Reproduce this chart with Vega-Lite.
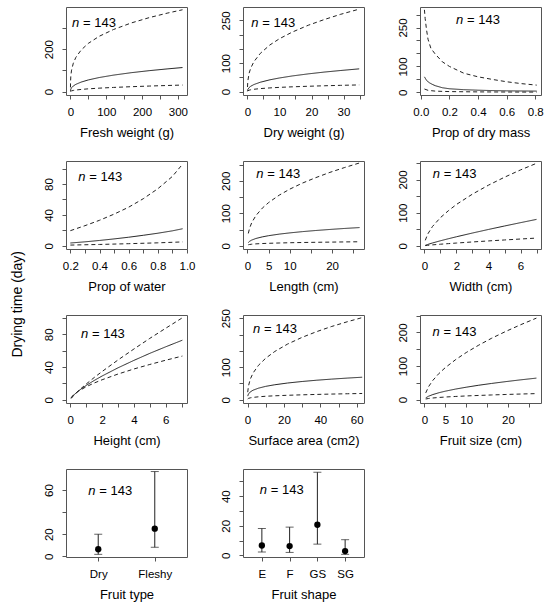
{
  "$schema": "https://vega.github.io/schema/vega-lite/v6.json",
  "padding": {"left": 10, "top": 6, "right": 5, "bottom": 5},
  "title": {"text": "Drying time (day)", "orient": "left", "anchor": "middle", "fontSize": 14, "fontWeight": "normal", "font": "Liberation Sans", "color": "#000", "offset": 18},
  "datasets": {
    "curves": [
      {"panel": "fresh", "series": "hi", "x": 0.01, "y": 19.8}, {"panel": "fresh", "series": "hi", "x": 0.2, "y": 46.6}, {"panel": "fresh", "series": "hi", "x": 1, "y": 74}, {"panel": "fresh", "series": "hi", "x": 3, "y": 101}, {"panel": "fresh", "series": "hi", "x": 8, "y": 134}, {"panel": "fresh", "series": "hi", "x": 15, "y": 161}, {"panel": "fresh", "series": "hi", "x": 30, "y": 196}, {"panel": "fresh", "series": "hi", "x": 50, "y": 227}, {"panel": "fresh", "series": "hi", "x": 80, "y": 260}, {"panel": "fresh", "series": "hi", "x": 120, "y": 292}, {"panel": "fresh", "series": "hi", "x": 170, "y": 323}, {"panel": "fresh", "series": "hi", "x": 220, "y": 348}, {"panel": "fresh", "series": "hi", "x": 270, "y": 369}, {"panel": "fresh", "series": "hi", "x": 313, "y": 385},
      {"panel": "fresh", "series": "fit", "x": 0.01, "y": 1.9}, {"panel": "fresh", "series": "fit", "x": 0.2, "y": 6.2}, {"panel": "fresh", "series": "fit", "x": 1, "y": 11.7}, {"panel": "fresh", "series": "fit", "x": 3, "y": 18.1}, {"panel": "fresh", "series": "fit", "x": 8, "y": 26.6}, {"panel": "fresh", "series": "fit", "x": 15, "y": 34.1}, {"panel": "fresh", "series": "fit", "x": 30, "y": 44.8}, {"panel": "fresh", "series": "fit", "x": 50, "y": 54.9}, {"panel": "fresh", "series": "fit", "x": 80, "y": 66.1}, {"panel": "fresh", "series": "fit", "x": 120, "y": 77.5}, {"panel": "fresh", "series": "fit", "x": 170, "y": 89}, {"panel": "fresh", "series": "fit", "x": 220, "y": 98.5}, {"panel": "fresh", "series": "fit", "x": 270, "y": 106.7}, {"panel": "fresh", "series": "fit", "x": 313, "y": 113.2},
      {"panel": "fresh", "series": "lo", "x": 0.01, "y": 0.24}, {"panel": "fresh", "series": "lo", "x": 0.2, "y": 0.97}, {"panel": "fresh", "series": "lo", "x": 1, "y": 2.07}, {"panel": "fresh", "series": "lo", "x": 3, "y": 3.5}, {"panel": "fresh", "series": "lo", "x": 8, "y": 5.5}, {"panel": "fresh", "series": "lo", "x": 15, "y": 7.4}, {"panel": "fresh", "series": "lo", "x": 30, "y": 10.2}, {"panel": "fresh", "series": "lo", "x": 50, "y": 13}, {"panel": "fresh", "series": "lo", "x": 80, "y": 16.2}, {"panel": "fresh", "series": "lo", "x": 120, "y": 19.6}, {"panel": "fresh", "series": "lo", "x": 170, "y": 23.1}, {"panel": "fresh", "series": "lo", "x": 220, "y": 26.1}, {"panel": "fresh", "series": "lo", "x": 270, "y": 28.7}, {"panel": "fresh", "series": "lo", "x": 313, "y": 30.8},

      {"panel": "dry", "series": "hi", "x": 0.01, "y": 16}, {"panel": "dry", "series": "hi", "x": 0.1, "y": 36.2}, {"panel": "dry", "series": "hi", "x": 0.5, "y": 64.1}, {"panel": "dry", "series": "hi", "x": 1, "y": 82}, {"panel": "dry", "series": "hi", "x": 2, "y": 104.9}, {"panel": "dry", "series": "hi", "x": 4, "y": 134}, {"panel": "dry", "series": "hi", "x": 7, "y": 163.7}, {"panel": "dry", "series": "hi", "x": 10, "y": 185.7}, {"panel": "dry", "series": "hi", "x": 14, "y": 209}, {"panel": "dry", "series": "hi", "x": 19, "y": 233}, {"panel": "dry", "series": "hi", "x": 24, "y": 253}, {"panel": "dry", "series": "hi", "x": 29, "y": 271}, {"panel": "dry", "series": "hi", "x": 34.9, "y": 289.5},
      {"panel": "dry", "series": "fit", "x": 0.01, "y": 2.8}, {"panel": "dry", "series": "fit", "x": 0.1, "y": 7.2}, {"panel": "dry", "series": "fit", "x": 0.5, "y": 14}, {"panel": "dry", "series": "fit", "x": 1, "y": 18.6}, {"panel": "dry", "series": "fit", "x": 2, "y": 24.7}, {"panel": "dry", "series": "fit", "x": 4, "y": 32.8}, {"panel": "dry", "series": "fit", "x": 7, "y": 41.3}, {"panel": "dry", "series": "fit", "x": 10, "y": 47.8}, {"panel": "dry", "series": "fit", "x": 14, "y": 54.9}, {"panel": "dry", "series": "fit", "x": 19, "y": 62.2}, {"panel": "dry", "series": "fit", "x": 24, "y": 68.5}, {"panel": "dry", "series": "fit", "x": 29, "y": 73.9}, {"panel": "dry", "series": "fit", "x": 34.9, "y": 79.8},
      {"panel": "dry", "series": "lo", "x": 0.01, "y": 1.1}, {"panel": "dry", "series": "lo", "x": 0.1, "y": 2.7}, {"panel": "dry", "series": "lo", "x": 0.5, "y": 4.9}, {"panel": "dry", "series": "lo", "x": 1, "y": 6.3}, {"panel": "dry", "series": "lo", "x": 2, "y": 8.1}, {"panel": "dry", "series": "lo", "x": 4, "y": 10.5}, {"panel": "dry", "series": "lo", "x": 7, "y": 12.9}, {"panel": "dry", "series": "lo", "x": 10, "y": 14.8}, {"panel": "dry", "series": "lo", "x": 14, "y": 16.7}, {"panel": "dry", "series": "lo", "x": 19, "y": 18.7}, {"panel": "dry", "series": "lo", "x": 24, "y": 20.4}, {"panel": "dry", "series": "lo", "x": 29, "y": 21.9}, {"panel": "dry", "series": "lo", "x": 34.9, "y": 23.4},

      {"panel": "pdry", "series": "hi", "x": 0.025, "y": 318}, {"panel": "pdry", "series": "hi", "x": 0.03, "y": 285}, {"panel": "pdry", "series": "hi", "x": 0.04, "y": 240}, {"panel": "pdry", "series": "hi", "x": 0.05, "y": 205}, {"panel": "pdry", "series": "hi", "x": 0.07, "y": 170}, {"panel": "pdry", "series": "hi", "x": 0.1, "y": 148}, {"panel": "pdry", "series": "hi", "x": 0.15, "y": 118}, {"panel": "pdry", "series": "hi", "x": 0.2, "y": 100}, {"panel": "pdry", "series": "hi", "x": 0.3, "y": 74}, {"panel": "pdry", "series": "hi", "x": 0.4, "y": 60}, {"panel": "pdry", "series": "hi", "x": 0.5, "y": 50}, {"panel": "pdry", "series": "hi", "x": 0.6, "y": 41}, {"panel": "pdry", "series": "hi", "x": 0.7, "y": 34}, {"panel": "pdry", "series": "hi", "x": 0.81, "y": 28},
      {"panel": "pdry", "series": "fit", "x": 0.025, "y": 60}, {"panel": "pdry", "series": "fit", "x": 0.04, "y": 46}, {"panel": "pdry", "series": "fit", "x": 0.06, "y": 37}, {"panel": "pdry", "series": "fit", "x": 0.08, "y": 31}, {"panel": "pdry", "series": "fit", "x": 0.1, "y": 26}, {"panel": "pdry", "series": "fit", "x": 0.15, "y": 18}, {"panel": "pdry", "series": "fit", "x": 0.2, "y": 14}, {"panel": "pdry", "series": "fit", "x": 0.3, "y": 10.5}, {"panel": "pdry", "series": "fit", "x": 0.4, "y": 8.5}, {"panel": "pdry", "series": "fit", "x": 0.5, "y": 7}, {"panel": "pdry", "series": "fit", "x": 0.6, "y": 6}, {"panel": "pdry", "series": "fit", "x": 0.7, "y": 5.5}, {"panel": "pdry", "series": "fit", "x": 0.81, "y": 5},
      {"panel": "pdry", "series": "lo", "x": 0.025, "y": 13}, {"panel": "pdry", "series": "lo", "x": 0.05, "y": 8}, {"panel": "pdry", "series": "lo", "x": 0.1, "y": 5}, {"panel": "pdry", "series": "lo", "x": 0.15, "y": 4}, {"panel": "pdry", "series": "lo", "x": 0.2, "y": 3.2}, {"panel": "pdry", "series": "lo", "x": 0.3, "y": 2.5}, {"panel": "pdry", "series": "lo", "x": 0.4, "y": 2}, {"panel": "pdry", "series": "lo", "x": 0.6, "y": 1.5}, {"panel": "pdry", "series": "lo", "x": 0.81, "y": 1.2},

      {"panel": "pwater", "series": "hi", "x": 0.2, "y": 19.5}, {"panel": "pwater", "series": "hi", "x": 0.3, "y": 26}, {"panel": "pwater", "series": "hi", "x": 0.4, "y": 33}, {"panel": "pwater", "series": "hi", "x": 0.5, "y": 41}, {"panel": "pwater", "series": "hi", "x": 0.6, "y": 50}, {"panel": "pwater", "series": "hi", "x": 0.7, "y": 61}, {"panel": "pwater", "series": "hi", "x": 0.8, "y": 74}, {"panel": "pwater", "series": "hi", "x": 0.9, "y": 90}, {"panel": "pwater", "series": "hi", "x": 0.97, "y": 106},
      {"panel": "pwater", "series": "fit", "x": 0.2, "y": 3.5}, {"panel": "pwater", "series": "fit", "x": 0.3, "y": 5}, {"panel": "pwater", "series": "fit", "x": 0.4, "y": 6.8}, {"panel": "pwater", "series": "fit", "x": 0.5, "y": 8.8}, {"panel": "pwater", "series": "fit", "x": 0.6, "y": 11}, {"panel": "pwater", "series": "fit", "x": 0.7, "y": 13.5}, {"panel": "pwater", "series": "fit", "x": 0.8, "y": 16.2}, {"panel": "pwater", "series": "fit", "x": 0.9, "y": 19.3}, {"panel": "pwater", "series": "fit", "x": 0.97, "y": 22},
      {"panel": "pwater", "series": "lo", "x": 0.2, "y": 0.8}, {"panel": "pwater", "series": "lo", "x": 0.4, "y": 1.6}, {"panel": "pwater", "series": "lo", "x": 0.6, "y": 2.6}, {"panel": "pwater", "series": "lo", "x": 0.8, "y": 3.7}, {"panel": "pwater", "series": "lo", "x": 0.97, "y": 4.9},

      {"panel": "length", "series": "hi", "x": 0.2, "y": 37.9}, {"panel": "length", "series": "hi", "x": 0.5, "y": 54.2}, {"panel": "length", "series": "hi", "x": 1, "y": 71}, {"panel": "length", "series": "hi", "x": 2, "y": 93}, {"panel": "length", "series": "hi", "x": 3.5, "y": 115.8}, {"panel": "length", "series": "hi", "x": 5, "y": 133}, {"panel": "length", "series": "hi", "x": 7.5, "y": 155.8}, {"panel": "length", "series": "hi", "x": 10, "y": 174.3}, {"panel": "length", "series": "hi", "x": 13, "y": 193}, {"panel": "length", "series": "hi", "x": 16, "y": 209}, {"panel": "length", "series": "hi", "x": 19.5, "y": 226}, {"panel": "length", "series": "hi", "x": 23, "y": 241}, {"panel": "length", "series": "hi", "x": 26.5, "y": 255},
      {"panel": "length", "series": "fit", "x": 0.2, "y": 9.9}, {"panel": "length", "series": "fit", "x": 0.5, "y": 13.7}, {"panel": "length", "series": "fit", "x": 1, "y": 17.5}, {"panel": "length", "series": "fit", "x": 2, "y": 22.4}, {"panel": "length", "series": "fit", "x": 3.5, "y": 27.3}, {"panel": "length", "series": "fit", "x": 5, "y": 31}, {"panel": "length", "series": "fit", "x": 7.5, "y": 35.8}, {"panel": "length", "series": "fit", "x": 10, "y": 39.6}, {"panel": "length", "series": "fit", "x": 13, "y": 43.5}, {"panel": "length", "series": "fit", "x": 16, "y": 46.8}, {"panel": "length", "series": "fit", "x": 19.5, "y": 50.2}, {"panel": "length", "series": "fit", "x": 23, "y": 53.3}, {"panel": "length", "series": "fit", "x": 26.5, "y": 56},
      {"panel": "length", "series": "lo", "x": 0.2, "y": 3}, {"panel": "length", "series": "lo", "x": 0.5, "y": 3.9}, {"panel": "length", "series": "lo", "x": 1, "y": 4.75}, {"panel": "length", "series": "lo", "x": 2, "y": 5.8}, {"panel": "length", "series": "lo", "x": 3.5, "y": 6.8}, {"panel": "length", "series": "lo", "x": 5, "y": 7.6}, {"panel": "length", "series": "lo", "x": 7.5, "y": 8.5}, {"panel": "length", "series": "lo", "x": 10, "y": 9.3}, {"panel": "length", "series": "lo", "x": 13, "y": 10}, {"panel": "length", "series": "lo", "x": 16, "y": 10.6}, {"panel": "length", "series": "lo", "x": 19.5, "y": 11.2}, {"panel": "length", "series": "lo", "x": 23, "y": 11.8}, {"panel": "length", "series": "lo", "x": 26.5, "y": 12.3},

      {"panel": "width", "series": "hi", "x": 0.05, "y": 16.2}, {"panel": "width", "series": "hi", "x": 0.2, "y": 34.9}, {"panel": "width", "series": "hi", "x": 0.5, "y": 58}, {"panel": "width", "series": "hi", "x": 1, "y": 85}, {"panel": "width", "series": "hi", "x": 1.5, "y": 106}, {"panel": "width", "series": "hi", "x": 2, "y": 124.7}, {"panel": "width", "series": "hi", "x": 3, "y": 156}, {"panel": "width", "series": "hi", "x": 4, "y": 183}, {"panel": "width", "series": "hi", "x": 5, "y": 207}, {"panel": "width", "series": "hi", "x": 6, "y": 229}, {"panel": "width", "series": "hi", "x": 7, "y": 249},
      {"panel": "width", "series": "fit", "x": 0.05, "y": 1.1}, {"panel": "width", "series": "fit", "x": 0.2, "y": 3.7}, {"panel": "width", "series": "fit", "x": 0.5, "y": 8.2}, {"panel": "width", "series": "fit", "x": 1, "y": 14.9}, {"panel": "width", "series": "fit", "x": 1.5, "y": 21.1}, {"panel": "width", "series": "fit", "x": 2, "y": 27}, {"panel": "width", "series": "fit", "x": 3, "y": 38.3}, {"panel": "width", "series": "fit", "x": 4, "y": 49.1}, {"panel": "width", "series": "fit", "x": 5, "y": 59.5}, {"panel": "width", "series": "fit", "x": 6, "y": 69.6}, {"panel": "width", "series": "fit", "x": 7, "y": 79.5},
      {"panel": "width", "series": "lo", "x": 0.05, "y": 0.36}, {"panel": "width", "series": "lo", "x": 0.2, "y": 1.15}, {"panel": "width", "series": "lo", "x": 0.5, "y": 2.5}, {"panel": "width", "series": "lo", "x": 1, "y": 4.46}, {"panel": "width", "series": "lo", "x": 1.5, "y": 6.3}, {"panel": "width", "series": "lo", "x": 2, "y": 8}, {"panel": "width", "series": "lo", "x": 3, "y": 11.3}, {"panel": "width", "series": "lo", "x": 4, "y": 14.4}, {"panel": "width", "series": "lo", "x": 5, "y": 17.3}, {"panel": "width", "series": "lo", "x": 6, "y": 20.2}, {"panel": "width", "series": "lo", "x": 7, "y": 23},

      {"panel": "height", "series": "hi", "x": 0.05, "y": 1.5}, {"panel": "height", "series": "hi", "x": 0.2, "y": 4.9}, {"panel": "height", "series": "hi", "x": 0.5, "y": 10.7}, {"panel": "height", "series": "hi", "x": 1, "y": 19.2}, {"panel": "height", "series": "hi", "x": 1.5, "y": 27.1}, {"panel": "height", "series": "hi", "x": 2, "y": 34.5}, {"panel": "height", "series": "hi", "x": 3, "y": 48.6}, {"panel": "height", "series": "hi", "x": 4, "y": 62}, {"panel": "height", "series": "hi", "x": 5, "y": 75}, {"panel": "height", "series": "hi", "x": 6, "y": 87.4}, {"panel": "height", "series": "hi", "x": 7.05, "y": 100.2},
      {"panel": "height", "series": "fit", "x": 0.05, "y": 2}, {"panel": "height", "series": "fit", "x": 0.2, "y": 5.4}, {"panel": "height", "series": "fit", "x": 0.5, "y": 10.6}, {"panel": "height", "series": "fit", "x": 1, "y": 17.5}, {"panel": "height", "series": "fit", "x": 1.5, "y": 23.5}, {"panel": "height", "series": "fit", "x": 2, "y": 29}, {"panel": "height", "series": "fit", "x": 3, "y": 39}, {"panel": "height", "series": "fit", "x": 4, "y": 48.1}, {"panel": "height", "series": "fit", "x": 5, "y": 56.7}, {"panel": "height", "series": "fit", "x": 6, "y": 64.7}, {"panel": "height", "series": "fit", "x": 7.05, "y": 72.8},
      {"panel": "height", "series": "lo", "x": 0.05, "y": 2.5}, {"panel": "height", "series": "lo", "x": 0.2, "y": 5.9}, {"panel": "height", "series": "lo", "x": 0.5, "y": 10.3}, {"panel": "height", "series": "lo", "x": 1, "y": 15.9}, {"panel": "height", "series": "lo", "x": 1.5, "y": 20.4}, {"panel": "height", "series": "lo", "x": 2, "y": 24.4}, {"panel": "height", "series": "lo", "x": 3, "y": 31.4}, {"panel": "height", "series": "lo", "x": 4, "y": 37.6}, {"panel": "height", "series": "lo", "x": 5, "y": 43.1}, {"panel": "height", "series": "lo", "x": 6, "y": 48.3}, {"panel": "height", "series": "lo", "x": 7.05, "y": 53.4},

      {"panel": "surface", "series": "hi", "x": 0.1, "y": 23.2}, {"panel": "surface", "series": "hi", "x": 0.5, "y": 42.1}, {"panel": "surface", "series": "hi", "x": 1.5, "y": 63.2}, {"panel": "surface", "series": "hi", "x": 3, "y": 81.7}, {"panel": "surface", "series": "hi", "x": 6, "y": 105.6}, {"panel": "surface", "series": "hi", "x": 10, "y": 127.5}, {"panel": "surface", "series": "hi", "x": 15, "y": 148.2}, {"panel": "surface", "series": "hi", "x": 22, "y": 170.8}, {"panel": "surface", "series": "hi", "x": 30, "y": 191.5}, {"panel": "surface", "series": "hi", "x": 38, "y": 209}, {"panel": "surface", "series": "hi", "x": 46, "y": 224.4}, {"panel": "surface", "series": "hi", "x": 55, "y": 239.6}, {"panel": "surface", "series": "hi", "x": 63, "y": 252},
      {"panel": "surface", "series": "fit", "x": 0.1, "y": 11.1}, {"panel": "surface", "series": "fit", "x": 0.5, "y": 17.6}, {"panel": "surface", "series": "fit", "x": 1.5, "y": 24}, {"panel": "surface", "series": "fit", "x": 3, "y": 29.2}, {"panel": "surface", "series": "fit", "x": 6, "y": 35.5}, {"panel": "surface", "series": "fit", "x": 10, "y": 41.1}, {"panel": "surface", "series": "fit", "x": 15, "y": 46}, {"panel": "surface", "series": "fit", "x": 22, "y": 51.3}, {"panel": "surface", "series": "fit", "x": 30, "y": 56}, {"panel": "surface", "series": "fit", "x": 38, "y": 59.9}, {"panel": "surface", "series": "fit", "x": 46, "y": 63.2}, {"panel": "surface", "series": "fit", "x": 55, "y": 66.5}, {"panel": "surface", "series": "fit", "x": 63, "y": 69.1},
      {"panel": "surface", "series": "lo", "x": 0.1, "y": 2.4}, {"panel": "surface", "series": "lo", "x": 0.5, "y": 4.1}, {"panel": "surface", "series": "lo", "x": 1.5, "y": 5.8}, {"panel": "surface", "series": "lo", "x": 3, "y": 7.2}, {"panel": "surface", "series": "lo", "x": 6, "y": 9}, {"panel": "surface", "series": "lo", "x": 10, "y": 10.7}, {"panel": "surface", "series": "lo", "x": 15, "y": 12.1}, {"panel": "surface", "series": "lo", "x": 22, "y": 13.7}, {"panel": "surface", "series": "lo", "x": 30, "y": 15.1}, {"panel": "surface", "series": "lo", "x": 38, "y": 16.3}, {"panel": "surface", "series": "lo", "x": 46, "y": 17.4}, {"panel": "surface", "series": "lo", "x": 55, "y": 18.4}, {"panel": "surface", "series": "lo", "x": 63, "y": 19.2},

      {"panel": "size", "series": "hi", "x": 0.3, "y": 20}, {"panel": "size", "series": "hi", "x": 1, "y": 39}, {"panel": "size", "series": "hi", "x": 2, "y": 57.3}, {"panel": "size", "series": "hi", "x": 3.5, "y": 78.3}, {"panel": "size", "series": "hi", "x": 5, "y": 95.4}, {"panel": "size", "series": "hi", "x": 7.5, "y": 119.5}, {"panel": "size", "series": "hi", "x": 10, "y": 140.3}, {"panel": "size", "series": "hi", "x": 13, "y": 162.3}, {"panel": "size", "series": "hi", "x": 16, "y": 182.3}, {"panel": "size", "series": "hi", "x": 19.5, "y": 203.3}, {"panel": "size", "series": "hi", "x": 23, "y": 222.9}, {"panel": "size", "series": "hi", "x": 26.8, "y": 242.7},
      {"panel": "size", "series": "fit", "x": 0.3, "y": 5.3}, {"panel": "size", "series": "fit", "x": 1, "y": 10.3}, {"panel": "size", "series": "fit", "x": 2, "y": 15.1}, {"panel": "size", "series": "fit", "x": 3.5, "y": 20.7}, {"panel": "size", "series": "fit", "x": 5, "y": 25.2}, {"panel": "size", "series": "fit", "x": 7.5, "y": 31.6}, {"panel": "size", "series": "fit", "x": 10, "y": 37}, {"panel": "size", "series": "fit", "x": 13, "y": 42.9}, {"panel": "size", "series": "fit", "x": 16, "y": 48.1}, {"panel": "size", "series": "fit", "x": 19.5, "y": 53.7}, {"panel": "size", "series": "fit", "x": 23, "y": 58.9}, {"panel": "size", "series": "fit", "x": 26.8, "y": 64.1},
      {"panel": "size", "series": "lo", "x": 0.3, "y": 1.9}, {"panel": "size", "series": "lo", "x": 1, "y": 3.5}, {"panel": "size", "series": "lo", "x": 2, "y": 4.9}, {"panel": "size", "series": "lo", "x": 3.5, "y": 6.5}, {"panel": "size", "series": "lo", "x": 5, "y": 7.8}, {"panel": "size", "series": "lo", "x": 7.5, "y": 9.5}, {"panel": "size", "series": "lo", "x": 10, "y": 11}, {"panel": "size", "series": "lo", "x": 13, "y": 12.5}, {"panel": "size", "series": "lo", "x": 16, "y": 13.9}, {"panel": "size", "series": "lo", "x": 19.5, "y": 15.4}, {"panel": "size", "series": "lo", "x": 23, "y": 16.7}, {"panel": "size", "series": "lo", "x": 26.8, "y": 18}
    ],
    "cats": [
      {"panel": "type", "cat": "Dry", "mean": 6.4, "lo": 1.8, "hi": 20},
      {"panel": "type", "cat": "Fleshy", "mean": 25, "lo": 8.2, "hi": 76.7},
      {"panel": "shape", "cat": "E", "mean": 6.7, "lo": 2.2, "hi": 18.2},
      {"panel": "shape", "cat": "F", "mean": 6.3, "lo": 2, "hi": 19.1},
      {"panel": "shape", "cat": "GS", "mean": 20.7, "lo": 7.6, "hi": 56.2},
      {"panel": "shape", "cat": "SG", "mean": 2.9, "lo": 0.7, "hi": 10.6}
    ]
  },
  "columns": 3,
  "spacing": {"row": 66, "column": 56},
  "bounds": "flush",
  "concat": [
    {
      "width": 121, "height": 88,
      "data": {"name": "curves"},
      "transform": [{"filter": "datum.panel === 'fresh'"}],
      "layer": [
        {"mark": {"type": "line", "color": "#222", "strokeWidth": 1},
         "encoding": {
           "x": {"field": "x", "type": "quantitative", "scale": {"domain": [-12.5, 325.5], "nice": false, "zero": false}, "axis": {"title": "Fresh weight (g)", "format": "d", "tickCount": 50, "labelOverlap": false, "values": [0, 50, 100, 150, 200, 250, 300], "labelExpr": "indexof([0, 100, 200, 300], datum.value) >= 0 ? datum.label : ''"}},
           "y": {"field": "y", "type": "quantitative", "scale": {"domain": [-16, 398], "nice": false, "zero": false}, "axis": {"title": null, "format": "d", "tickCount": 50, "labelOverlap": false, "values": [0, 100, 200, 300], "labelExpr": "indexof([0, 200], datum.value) >= 0 ? datum.label : ''"}},
           "strokeDash": {"field": "series", "type": "nominal", "scale": {"domain": ["fit", "lo", "hi"], "range": [[1, 0], [4, 3], [4, 3]]}, "legend": null}
         }},
        {"data": {"values": [{}]}, "mark": {"type": "text", "text": "n", "fontStyle": "italic", "align": "left", "baseline": "middle", "fontSize": 13},
         "encoding": {"x": {"datum": 4.3, "type": "quantitative"}, "y": {"datum": 323, "type": "quantitative"}}},
        {"data": {"values": [{}]}, "mark": {"type": "text", "text": "= 143", "align": "left", "baseline": "middle", "fontSize": 13, "dx": 11},
         "encoding": {"x": {"datum": 4.3, "type": "quantitative"}, "y": {"datum": 323, "type": "quantitative"}}}
      ]
    },
    {
      "width": 121, "height": 88,
      "data": {"name": "curves"},
      "transform": [{"filter": "datum.panel === 'dry'"}],
      "layer": [
        {"mark": {"type": "line", "color": "#222", "strokeWidth": 1},
         "encoding": {
           "x": {"field": "x", "type": "quantitative", "scale": {"domain": [-1.4, 36.4], "nice": false, "zero": false}, "axis": {"title": "Dry weight (g)", "format": "d", "tickCount": 50, "labelOverlap": false, "values": [0, 5, 10, 15, 20, 25, 30, 35], "labelExpr": "indexof([0, 10, 20, 30], datum.value) >= 0 ? datum.label : ''"}},
           "y": {"field": "y", "type": "quantitative", "scale": {"domain": [-12, 297], "nice": false, "zero": false}, "axis": {"title": null, "format": "d", "tickCount": 50, "labelOverlap": false, "values": [0, 50, 100, 150, 200, 250], "labelExpr": "indexof([0, 100, 250], datum.value) >= 0 ? datum.label : ''"}},
           "strokeDash": {"field": "series", "type": "nominal", "scale": {"domain": ["fit", "lo", "hi"], "range": [[1, 0], [4, 3], [4, 3]]}, "legend": null}
         }},
        {"data": {"values": [{}]}, "mark": {"type": "text", "text": "n", "fontStyle": "italic", "align": "left", "baseline": "middle", "fontSize": 13},
         "encoding": {"x": {"datum": 1.2, "type": "quantitative"}, "y": {"datum": 242, "type": "quantitative"}}},
        {"data": {"values": [{}]}, "mark": {"type": "text", "text": "= 143", "align": "left", "baseline": "middle", "fontSize": 13, "dx": 11},
         "encoding": {"x": {"datum": 1.2, "type": "quantitative"}, "y": {"datum": 242, "type": "quantitative"}}}
      ]
    },
    {
      "width": 121, "height": 88,
      "data": {"name": "curves"},
      "transform": [{"filter": "datum.panel === 'pdry'"}],
      "layer": [
        {"mark": {"type": "line", "color": "#222", "strokeWidth": 1},
         "encoding": {
           "x": {"field": "x", "type": "quantitative", "scale": {"domain": [-0.006, 0.84], "nice": false, "zero": false}, "axis": {"title": "Prop of dry mass", "tickCount": 50, "labelOverlap": false, "values": [0, 0.2, 0.4, 0.6, 0.8], "format": ".1f"}},
           "y": {"field": "y", "type": "quantitative", "scale": {"domain": [-10, 329], "nice": false, "zero": false}, "axis": {"title": null, "format": "d", "tickCount": 50, "labelOverlap": false, "values": [0, 50, 100, 150, 200, 250, 300], "labelExpr": "indexof([0, 100, 250], datum.value) >= 0 ? datum.label : ''"}},
           "strokeDash": {"field": "series", "type": "nominal", "scale": {"domain": ["fit", "lo", "hi"], "range": [[1, 0], [4, 3], [4, 3]]}, "legend": null}
         }},
        {"data": {"values": [{}]}, "mark": {"type": "text", "text": "n", "fontStyle": "italic", "align": "left", "baseline": "middle", "fontSize": 13},
         "encoding": {"x": {"datum": 0.246, "type": "quantitative"}, "y": {"datum": 279, "type": "quantitative"}}},
        {"data": {"values": [{}]}, "mark": {"type": "text", "text": "= 143", "align": "left", "baseline": "middle", "fontSize": 13, "dx": 11},
         "encoding": {"x": {"datum": 0.246, "type": "quantitative"}, "y": {"datum": 279, "type": "quantitative"}}}
      ]
    },
    {
      "width": 121, "height": 88,
      "data": {"name": "curves"},
      "transform": [{"filter": "datum.panel === 'pwater'"}],
      "layer": [
        {"mark": {"type": "line", "color": "#222", "strokeWidth": 1},
         "encoding": {
           "x": {"field": "x", "type": "quantitative", "scale": {"domain": [0.17, 1.0], "nice": false, "zero": false}, "axis": {"title": "Prop of water", "tickCount": 50, "labelOverlap": false, "values": [0.2, 0.3, 0.4, 0.5, 0.6, 0.7, 0.8, 0.9, 1.0], "format": ".1f", "labelExpr": "indexof([0.2, 0.4, 0.6, 0.8, 1.0], datum.value) >= 0 ? datum.label : ''"}},
           "y": {"field": "y", "type": "quantitative", "scale": {"domain": [-4.3, 110], "nice": false, "zero": false}, "axis": {"title": null, "format": "d", "tickCount": 50, "labelOverlap": false, "values": [0, 20, 40, 60, 80, 100], "labelExpr": "indexof([0, 40, 80], datum.value) >= 0 ? datum.label : ''"}},
           "strokeDash": {"field": "series", "type": "nominal", "scale": {"domain": ["fit", "lo", "hi"], "range": [[1, 0], [4, 3], [4, 3]]}, "legend": null}
         }},
        {"data": {"values": [{}]}, "mark": {"type": "text", "text": "n", "fontStyle": "italic", "align": "left", "baseline": "middle", "fontSize": 13},
         "encoding": {"x": {"datum": 0.254, "type": "quantitative"}, "y": {"datum": 89.2, "type": "quantitative"}}},
        {"data": {"values": [{}]}, "mark": {"type": "text", "text": "= 143", "align": "left", "baseline": "middle", "fontSize": 13, "dx": 11},
         "encoding": {"x": {"datum": 0.254, "type": "quantitative"}, "y": {"datum": 89.2, "type": "quantitative"}}}
      ]
    },
    {
      "width": 121, "height": 88,
      "data": {"name": "curves"},
      "transform": [{"filter": "datum.panel === 'length'"}],
      "layer": [
        {"mark": {"type": "line", "color": "#222", "strokeWidth": 1},
         "encoding": {
           "x": {"field": "x", "type": "quantitative", "scale": {"domain": [-1.06, 27.56], "nice": false, "zero": false}, "axis": {"title": "Length (cm)", "format": "d", "tickCount": 50, "labelOverlap": false, "values": [0, 5, 10, 15, 20, 25], "labelExpr": "indexof([0, 5, 10, 20], datum.value) >= 0 ? datum.label : ''"}},
           "y": {"field": "y", "type": "quantitative", "scale": {"domain": [-10, 261], "nice": false, "zero": false}, "axis": {"title": null, "format": "d", "tickCount": 50, "labelOverlap": false, "values": [0, 50, 100, 150, 200, 250], "labelExpr": "indexof([0, 100, 200], datum.value) >= 0 ? datum.label : ''"}},
           "strokeDash": {"field": "series", "type": "nominal", "scale": {"domain": ["fit", "lo", "hi"], "range": [[1, 0], [4, 3], [4, 3]]}, "legend": null}
         }},
        {"data": {"values": [{}]}, "mark": {"type": "text", "text": "n", "fontStyle": "italic", "align": "left", "baseline": "middle", "fontSize": 13},
         "encoding": {"x": {"datum": 2.1, "type": "quantitative"}, "y": {"datum": 222, "type": "quantitative"}}},
        {"data": {"values": [{}]}, "mark": {"type": "text", "text": "= 143", "align": "left", "baseline": "middle", "fontSize": 13, "dx": 11},
         "encoding": {"x": {"datum": 2.1, "type": "quantitative"}, "y": {"datum": 222, "type": "quantitative"}}}
      ]
    },
    {
      "width": 121, "height": 88,
      "data": {"name": "curves"},
      "transform": [{"filter": "datum.panel === 'width'"}],
      "layer": [
        {"mark": {"type": "line", "color": "#222", "strokeWidth": 1},
         "encoding": {
           "x": {"field": "x", "type": "quantitative", "scale": {"domain": [-0.28, 7.28], "nice": false, "zero": false}, "axis": {"title": "Width (cm)", "format": "d", "tickCount": 50, "labelOverlap": false, "values": [0, 1, 2, 3, 4, 5, 6, 7], "labelExpr": "indexof([0, 2, 4, 6], datum.value) >= 0 ? datum.label : ''"}},
           "y": {"field": "y", "type": "quantitative", "scale": {"domain": [-10, 256], "nice": false, "zero": false}, "axis": {"title": null, "format": "d", "tickCount": 50, "labelOverlap": false, "values": [0, 50, 100, 150, 200, 250], "labelExpr": "indexof([0, 100, 200], datum.value) >= 0 ? datum.label : ''"}},
           "strokeDash": {"field": "series", "type": "nominal", "scale": {"domain": ["fit", "lo", "hi"], "range": [[1, 0], [4, 3], [4, 3]]}, "legend": null}
         }},
        {"data": {"values": [{}]}, "mark": {"type": "text", "text": "n", "fontStyle": "italic", "align": "left", "baseline": "middle", "fontSize": 13},
         "encoding": {"x": {"datum": 0.51, "type": "quantitative"}, "y": {"datum": 216, "type": "quantitative"}}},
        {"data": {"values": [{}]}, "mark": {"type": "text", "text": "= 143", "align": "left", "baseline": "middle", "fontSize": 13, "dx": 11},
         "encoding": {"x": {"datum": 0.51, "type": "quantitative"}, "y": {"datum": 216, "type": "quantitative"}}}
      ]
    },
    {
      "width": 121, "height": 88,
      "data": {"name": "curves"},
      "transform": [{"filter": "datum.panel === 'height'"}],
      "layer": [
        {"mark": {"type": "line", "color": "#222", "strokeWidth": 1},
         "encoding": {
           "x": {"field": "x", "type": "quantitative", "scale": {"domain": [-0.27, 7.34], "nice": false, "zero": false}, "axis": {"title": "Height (cm)", "format": "d", "tickCount": 50, "labelOverlap": false, "values": [0, 1, 2, 3, 4, 5, 6, 7], "labelExpr": "indexof([0, 2, 4, 6], datum.value) >= 0 ? datum.label : ''"}},
           "y": {"field": "y", "type": "quantitative", "scale": {"domain": [-4, 103.6], "nice": false, "zero": false}, "axis": {"title": null, "format": "d", "tickCount": 50, "labelOverlap": false, "values": [0, 20, 40, 60, 80, 100], "labelExpr": "indexof([0, 40, 80], datum.value) >= 0 ? datum.label : ''"}},
           "strokeDash": {"field": "series", "type": "nominal", "scale": {"domain": ["fit", "lo", "hi"], "range": [[1, 0], [4, 3], [4, 3]]}, "legend": null}
         }},
        {"data": {"values": [{}]}, "mark": {"type": "text", "text": "n", "fontStyle": "italic", "align": "left", "baseline": "middle", "fontSize": 13},
         "encoding": {"x": {"datum": 0.67, "type": "quantitative"}, "y": {"datum": 80.4, "type": "quantitative"}}},
        {"data": {"values": [{}]}, "mark": {"type": "text", "text": "= 143", "align": "left", "baseline": "middle", "fontSize": 13, "dx": 11},
         "encoding": {"x": {"datum": 0.67, "type": "quantitative"}, "y": {"datum": 80.4, "type": "quantitative"}}}
      ]
    },
    {
      "width": 121, "height": 88,
      "data": {"name": "curves"},
      "transform": [{"filter": "datum.panel === 'surface'"}],
      "layer": [
        {"mark": {"type": "line", "color": "#222", "strokeWidth": 1},
         "encoding": {
           "x": {"field": "x", "type": "quantitative", "scale": {"domain": [-2.5, 64], "nice": false, "zero": false}, "axis": {"title": "Surface area (cm2)", "format": "d", "tickCount": 50, "labelOverlap": false, "values": [0, 10, 20, 30, 40, 50, 60], "labelExpr": "indexof([0, 20, 40, 60], datum.value) >= 0 ? datum.label : ''"}},
           "y": {"field": "y", "type": "quantitative", "scale": {"domain": [-10, 260], "nice": false, "zero": false}, "axis": {"title": null, "format": "d", "tickCount": 50, "labelOverlap": false, "values": [0, 50, 100, 150, 200, 250], "labelExpr": "indexof([0, 100, 250], datum.value) >= 0 ? datum.label : ''"}},
           "strokeDash": {"field": "series", "type": "nominal", "scale": {"domain": ["fit", "lo", "hi"], "range": [[1, 0], [4, 3], [4, 3]]}, "legend": null}
         }},
        {"data": {"values": [{}]}, "mark": {"type": "text", "text": "n", "fontStyle": "italic", "align": "left", "baseline": "middle", "fontSize": 13},
         "encoding": {"x": {"datum": 3, "type": "quantitative"}, "y": {"datum": 217, "type": "quantitative"}}},
        {"data": {"values": [{}]}, "mark": {"type": "text", "text": "= 143", "align": "left", "baseline": "middle", "fontSize": 13, "dx": 11},
         "encoding": {"x": {"datum": 3, "type": "quantitative"}, "y": {"datum": 217, "type": "quantitative"}}}
      ]
    },
    {
      "width": 121, "height": 88,
      "data": {"name": "curves"},
      "transform": [{"filter": "datum.panel === 'size'"}],
      "layer": [
        {"mark": {"type": "line", "color": "#222", "strokeWidth": 1},
         "encoding": {
           "x": {"field": "x", "type": "quantitative", "scale": {"domain": [-1.07, 27.9], "nice": false, "zero": false}, "axis": {"title": "Fruit size (cm)", "format": "d", "tickCount": 50, "labelOverlap": false, "values": [0, 5, 10, 15, 20, 25], "labelExpr": "indexof([0, 5, 10, 20], datum.value) >= 0 ? datum.label : ''"}},
           "y": {"field": "y", "type": "quantitative", "scale": {"domain": [-10, 252], "nice": false, "zero": false}, "axis": {"title": null, "format": "d", "tickCount": 50, "labelOverlap": false, "values": [0, 50, 100, 150, 200, 250], "labelExpr": "indexof([0, 100, 200], datum.value) >= 0 ? datum.label : ''"}},
           "strokeDash": {"field": "series", "type": "nominal", "scale": {"domain": ["fit", "lo", "hi"], "range": [[1, 0], [4, 3], [4, 3]]}, "legend": null}
         }},
        {"data": {"values": [{}]}, "mark": {"type": "text", "text": "n", "fontStyle": "italic", "align": "left", "baseline": "middle", "fontSize": 13},
         "encoding": {"x": {"datum": 1.95, "type": "quantitative"}, "y": {"datum": 202, "type": "quantitative"}}},
        {"data": {"values": [{}]}, "mark": {"type": "text", "text": "= 143", "align": "left", "baseline": "middle", "fontSize": 13, "dx": 11},
         "encoding": {"x": {"datum": 1.95, "type": "quantitative"}, "y": {"datum": 202, "type": "quantitative"}}}
      ]
    },
    {
      "width": 121, "height": 88,
      "data": {"name": "cats"},
      "transform": [{"filter": "datum.panel === 'type'"}],
      "layer": [
        {"mark": {"type": "rule", "color": "#222", "strokeWidth": 1},
         "encoding": {
           "x": {"field": "cat", "type": "nominal", "sort": null, "scale": {"type": "point", "padding": 0.57}, "axis": {"title": "Fruit type", "labelAngle": 0, "labelOverlap": false}},
           "y": {"field": "lo", "type": "quantitative", "scale": {"domain": [-0.6, 79], "nice": false, "zero": false}, "axis": {"title": null, "format": "d", "tickCount": 50, "labelOverlap": false, "values": [0, 20, 40, 60], "labelExpr": "indexof([0, 20, 60], datum.value) >= 0 ? datum.label : ''"}},
           "y2": {"field": "hi"}
         }},
        {"mark": {"type": "tick", "size": 8, "thickness": 1, "color": "#222", "orient": "horizontal"},
         "encoding": {"x": {"field": "cat", "type": "nominal"}, "y": {"field": "hi", "type": "quantitative"}}},
        {"mark": {"type": "tick", "size": 8, "thickness": 1, "color": "#222", "orient": "horizontal"},
         "encoding": {"x": {"field": "cat", "type": "nominal"}, "y": {"field": "lo", "type": "quantitative"}}},
        {"mark": {"type": "point", "filled": true, "size": 40, "color": "#000", "opacity": 1},
         "encoding": {"x": {"field": "cat", "type": "nominal"}, "y": {"field": "mean", "type": "quantitative"}}},
        {"data": {"values": [{}]}, "mark": {"type": "text", "text": "n", "fontStyle": "italic", "align": "left", "baseline": "middle", "fontSize": 13, "dx": -10},
         "encoding": {"x": {"datum": "Dry", "type": "nominal"}, "y": {"datum": 59.4, "type": "quantitative"}}},
        {"data": {"values": [{}]}, "mark": {"type": "text", "text": "= 143", "align": "left", "baseline": "middle", "fontSize": 13, "dx": 1},
         "encoding": {"x": {"datum": "Dry", "type": "nominal"}, "y": {"datum": 59.4, "type": "quantitative"}}}
      ]
    },
    {
      "width": 121, "height": 88,
      "data": {"name": "cats"},
      "transform": [{"filter": "datum.panel === 'shape'"}],
      "layer": [
        {"mark": {"type": "rule", "color": "#222", "strokeWidth": 1},
         "encoding": {
           "x": {"field": "cat", "type": "nominal", "sort": null, "scale": {"type": "point", "padding": 0.68}, "axis": {"title": "Fruit shape", "labelAngle": 0, "labelOverlap": false}},
           "y": {"field": "lo", "type": "quantitative", "scale": {"domain": [-1.1, 58.4], "nice": false, "zero": false}, "axis": {"title": null, "format": "d", "tickCount": 50, "labelOverlap": false, "values": [0, 10, 20, 30, 40, 50], "labelExpr": "indexof([0, 20, 40], datum.value) >= 0 ? datum.label : ''"}},
           "y2": {"field": "hi"}
         }},
        {"mark": {"type": "tick", "size": 8, "thickness": 1, "color": "#222", "orient": "horizontal"},
         "encoding": {"x": {"field": "cat", "type": "nominal"}, "y": {"field": "hi", "type": "quantitative"}}},
        {"mark": {"type": "tick", "size": 8, "thickness": 1, "color": "#222", "orient": "horizontal"},
         "encoding": {"x": {"field": "cat", "type": "nominal"}, "y": {"field": "lo", "type": "quantitative"}}},
        {"mark": {"type": "point", "filled": true, "size": 40, "color": "#000", "opacity": 1},
         "encoding": {"x": {"field": "cat", "type": "nominal"}, "y": {"field": "mean", "type": "quantitative"}}},
        {"data": {"values": [{}]}, "mark": {"type": "text", "text": "n", "fontStyle": "italic", "align": "left", "baseline": "middle", "fontSize": 13, "dx": -2},
         "encoding": {"x": {"datum": "E", "type": "nominal"}, "y": {"datum": 43.9, "type": "quantitative"}}},
        {"data": {"values": [{}]}, "mark": {"type": "text", "text": "= 143", "align": "left", "baseline": "middle", "fontSize": 13, "dx": 9},
         "encoding": {"x": {"datum": "E", "type": "nominal"}, "y": {"datum": 43.9, "type": "quantitative"}}}
      ]
    }
  ],
  "config": {
    "font": "Liberation Sans",
    "view": {"stroke": "#555", "strokeWidth": 1},
    "text": {"color": "#000", "font": "Liberation Sans"},
    "axis": {"domain": false, "grid": false, "tickColor": "#555", "tickSize": 4, "labelFontSize": 11.5, "labelColor": "#000", "labelFont": "Liberation Sans", "titleFont": "Liberation Sans", "titleFontSize": 13, "titleFontWeight": "normal", "titleColor": "#000", "labelFlush": false, "labelOverlap": false, "labelBound": false},
    "axisX": {"labelPadding": 7, "titlePadding": 9, "labelOverlap": false},
    "axisY": {"labelAngle": -90, "labelAlign": "center", "labelBaseline": "bottom", "labelPadding": 8, "labelOverlap": false}
  }
}
